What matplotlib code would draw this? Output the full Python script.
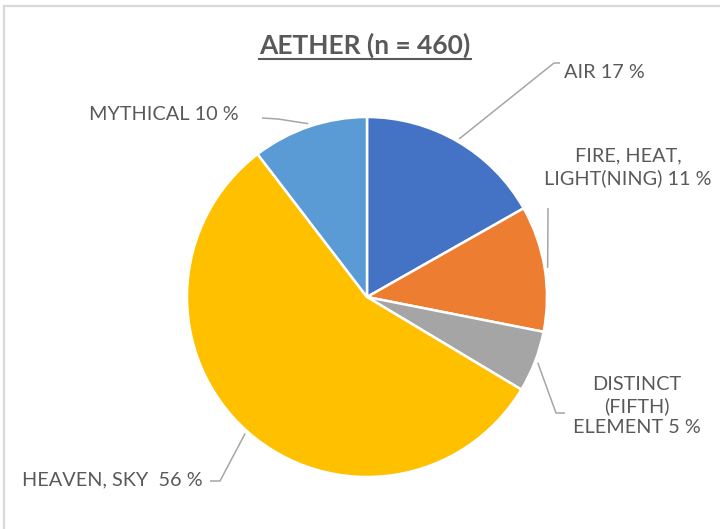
import numpy as np
import matplotlib
matplotlib.use("Agg")
import matplotlib.pyplot as plt
from matplotlib.patches import Rectangle

# data (percent shares)
categories = ["AIR", "FIRE, HEAT,\nLIGHT(NING)", "DISTINCT\n(FIFTH)\nELEMENT",
              "HEAVEN, SKY ", "MYTHICAL"]
shares = [16.8, 11.3, 5.5, 56.0, 10.4]
shown_pct = [17, 11, 5, 56, 10]
colors = ["#4472C4", "#ED7D31", "#A5A5A5", "#FFC000", "#5B9BD5"]
title = "AETHER (n = 460)"

W, H = 720, 529
FONT = ["Lato", "DejaVu Sans"]
TXT = "#595959"
LINE = "#A6A6A6"

fig = plt.figure(figsize=(W / 100, H / 100), dpi=100)
ax = fig.add_axes([0, 0, 1, 1])


def py(y):
    # pixel row (top-down) -> data y
    return H - y


cx, cy, r = 367, py(297), 180
wedges, _ = ax.pie(shares, colors=colors, startangle=90, counterclock=False,
                   center=(cx, cy), radius=r,
                   wedgeprops=dict(edgecolor="white", linewidth=1.8))
ax.set_xlim(0, W)
ax.set_ylim(0, H)
ax.set_aspect("equal")
ax.axis("off")

# chart frame (runs off the right/bottom edge like the original)
ax.add_patch(Rectangle((4, py(600)), 800, 594, fill=False, edgecolor="#D9D9D9",
                       linewidth=1.6, clip_on=True))

# leader lines: elbow point, end point (pixel coords), label anchor
layout = [
    ((554, 63), (560, 63), (564, 73), "left"),
    ((548, 208), (548, 208), (628, 167), "center"),
    ((556, 413), (565, 413), (637, 406), "center"),
    ((220, 481), (210, 481), (203, 480), "right"),
    ((278, 119), (262, 118), (239, 114), "right"),
]

for w, cat, pct, (elb, end, lab, ha) in zip(wedges, categories, shown_pct, layout):
    mid = np.deg2rad((w.theta1 + w.theta2) / 2)
    sx = cx + (r + 3) * np.cos(mid)
    sy = cy + (r + 3) * np.sin(mid)
    ax.plot([sx, elb[0], end[0]], [sy, py(elb[1]), py(end[1])],
            color=LINE, linewidth=1.1, solid_capstyle="butt")
    ax.text(lab[0], py(lab[1]), f"{cat} {pct} %", ha=ha, va="center",
            multialignment="center", color=TXT, fontsize=14.3, family=FONT,
            linespacing=1.3)

t = ax.text(365, py(45), title, ha="center", va="center", fontsize=19,
            fontweight="bold", color=TXT, family=FONT)
fig.canvas.draw()
bb = t.get_window_extent().transformed(ax.transData.inverted())
ax.plot([bb.x0, bb.x1], [bb.y0 - 1, bb.y0 - 1], color=TXT, linewidth=1.5)

fig.savefig("out.png", dpi=100)
